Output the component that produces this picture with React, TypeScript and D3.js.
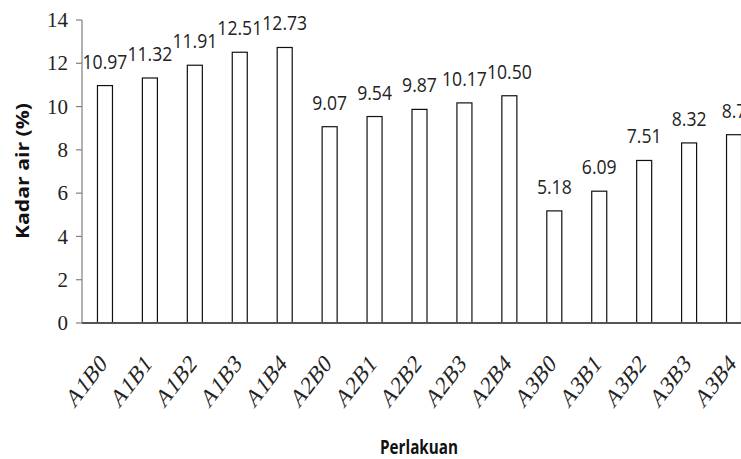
import React from "react";
import * as d3 from "d3";

// Moisture content per treatment
const categories = [
  "A1B0", "A1B1", "A1B2", "A1B3", "A1B4",
  "A2B0", "A2B1", "A2B2", "A2B3", "A2B4",
  "A3B0", "A3B1", "A3B2", "A3B3", "A3B4",
];
const values = [
  10.97, 11.32, 11.91, 12.51, 12.73,
  9.07, 9.54, 9.87, 10.17, 10.5,
  5.18, 6.09, 7.51, 8.32, 8.7,
];
const valueLabels = [
  "10.97", "11.32", "11.91", "12.51", "12.73",
  "9.07", "9.54", "9.87", "10.17", "10.50",
  "5.18", "6.09", "7.51", "8.32", "8.7",
];
const yTicks = [0, 2, 4, 6, 8, 10, 12, 14];

const W = 741;
const H = 459;
const left = 82;
const top = 20;
const bottom = 323;
const rightEdge = 756;

const sans = "'Open Sans', 'DejaVu Sans', sans-serif";
const serif = "'Liberation Serif', 'Times New Roman', serif";

export default function App() {
  const x = d3
    .scaleBand<string>()
    .domain(categories)
    .range([left, rightEdge])
    .paddingInner(0.666)
    .paddingOuter(0.333);
  const y = d3.scaleLinear().domain([0, 14]).range([bottom, top]);

  return (
    <svg
      width={W}
      height={H}
      style={{ position: "absolute", left: 0, top: 0, background: "#fff" }}
    >
      {/* bars */}
      {categories.map((c, i) => (
        <rect
          key={c}
          x={x(c)! + 0.5}
          y={y(values[i])}
          width={x.bandwidth()}
          height={y(0) - y(values[i])}
          fill="#fff"
          stroke="#111"
          strokeWidth={1.2}
        />
      ))}

      {/* value labels */}
      {categories.map((c, i) => (
        <text
          key={c + "-v"}
          transform={`translate(${x(c)! + x.bandwidth() / 2 + 0.5},${y(values[i]) - 17}) scale(1,1.18)`}
          textAnchor="middle"
          fontFamily={sans}
          fontSize={17.6}
          fill="#222"
        >
          {valueLabels[i]}
        </text>
      ))}

      {/* y axis */}
      <line x1={left} x2={left} y1={y(14)} y2={y(0)} stroke="#7f7f7f" strokeWidth={1.2} />
      {yTicks.map((t) => (
        <g key={t}>
          <line x1={left - 6} x2={left} y1={y(t)} y2={y(t)} stroke="#7f7f7f" strokeWidth={1.2} />
          <text
            x={left - 14}
            y={y(t)}
            dy="0.34em"
            textAnchor="end"
            fontFamily={serif}
            fontSize={21}
            fill="#222"
          >
            {t}
          </text>
        </g>
      ))}

      {/* x axis */}
      <line x1={left} x2={W} y1={y(0)} y2={y(0)} stroke="#555" strokeWidth={1.8} />
      {categories.map((c) => {
        const cx = x(c)! + x.bandwidth() / 2;
        return (
          <text
            key={c + "-t"}
            transform={`translate(${cx + 3.5},${365}) scale(1,1.3) rotate(-45)`}
            textAnchor="end"
            fontFamily={serif}
            fontSize={20}
            fill="#222"
          >
            {c}
          </text>
        );
      })}

      {/* axis titles */}
      <text
        transform="translate(419,454) scale(1,1.25)"
        textAnchor="middle"
        fontFamily={sans}
        fontWeight="bold"
        fontSize={15.5}
        fill="#111"
        textLength={78}
        lengthAdjust="spacingAndGlyphs"
      >
        Perlakuan
      </text>
      <text
        transform="translate(29,171) rotate(-90)"
        textAnchor="middle"
        fontFamily={sans}
        fontWeight="bold"
        fontSize={17}
        fill="#111"
        textLength={136}
        lengthAdjust="spacingAndGlyphs"
      >
        Kadar air (%)
      </text>
    </svg>
  );
}
